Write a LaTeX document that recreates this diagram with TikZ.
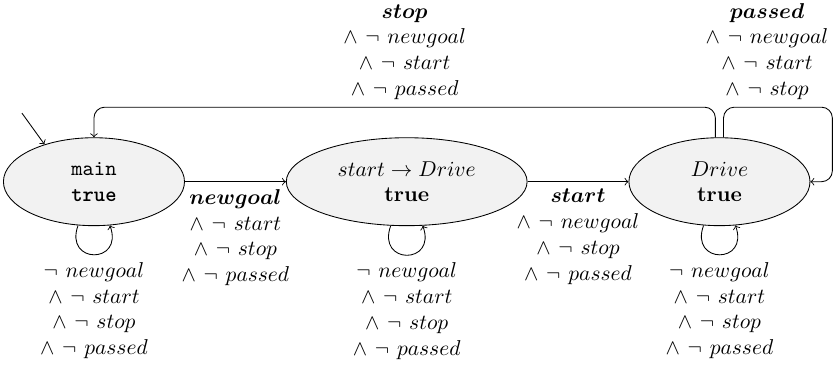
\documentclass[tikz,border=0pt]{standalone}
\usepackage{amsmath}
\usepackage{fontspec}
\newfontfamily\boldtt{lmmonolt10-bold.otf}
\usetikzlibrary{positioning,shapes.geometric}
\definecolor{statefill}{HTML}{F2F2F2}
% guard terms
\newcommand{\nt}[1]{$\neg$\hspace{3.6pt}$#1$}
\newcommand{\an}[1]{$\wedge$\hspace{3.6pt}\nt{#1}}

\begin{document}
\begin{tikzpicture}[
    state/.style={ellipse, draw, fill=statefill, align=center, inner xsep=7.5pt, inner ysep=4pt, minimum width=84.2pt, minimum height=40.9pt},
    guard/.style={align=center},
    selfloop/.style={out=-110, in=-70, looseness=3.35},
  ]
    \node[state] (main) {\texttt{main}\\{\boldtt true}};
    \node[state, right=1.65cm of main] (toDrive) {$start \rightarrow Drive$\\\textbf{true}};
    \node[state, right=1.65cm of toDrive] (drive) {$Drive$\\\textbf{true}};

    \useasboundingbox ([shift={(-43.7pt,-86.7pt)}]main.center) rectangle ++(387.4pt,171.2pt);

    % entry arrow into main
    \coordinate (entry) at ([shift={(-33.5pt,31.9pt)}]main.center);
    \draw[->] (entry) -- (main.143);

    % forward transitions
    \draw[->] (main) -- node[below, guard] {$\boldsymbol{newgoal}$\\\an{start}\\\an{stop}\\\an{passed}} (toDrive);
    \draw[->] (toDrive) -- node[below, guard] {$\boldsymbol{start}$\\\an{newgoal}\\\an{stop}\\\an{passed}} (drive);

    % back to main on stop
    \draw[->, rounded corners=5pt] ([xshift=-1.9pt]drive.north) -- ++(0,14pt) -| node[pos=0.25, above, guard] {$\boldsymbol{stop}$\\\an{newgoal}\\\an{start}\\\an{passed}} (main.north);

    % passed loop round the right side
    \coordinate (loopR) at ([xshift=10.2pt]drive.east);
    \draw[->, rounded corners=5pt] ([xshift=1.9pt]drive.north) -- ++(0,14pt) -| node[pos=0.2, above, guard] {$\boldsymbol{passed}$\\\an{newgoal}\\\an{start}\\\an{stop}} (loopR) -- (drive.east);

    % idle loops
    \draw[->] (main.-110) to[selfloop] node[below, guard] {\nt{newgoal}\\\an{start}\\\an{stop}\\\an{passed}} (main.-70);
    \draw[->] (toDrive.-110) to[selfloop] node[below, guard] {\nt{newgoal}\\\an{start}\\\an{stop}\\\an{passed}} (toDrive.-70);
    \draw[->] (drive.-110) to[selfloop] node[below, guard] {\nt{newgoal}\\\an{start}\\\an{stop}\\\an{passed}} (drive.-70);
\end{tikzpicture}
\end{document}
